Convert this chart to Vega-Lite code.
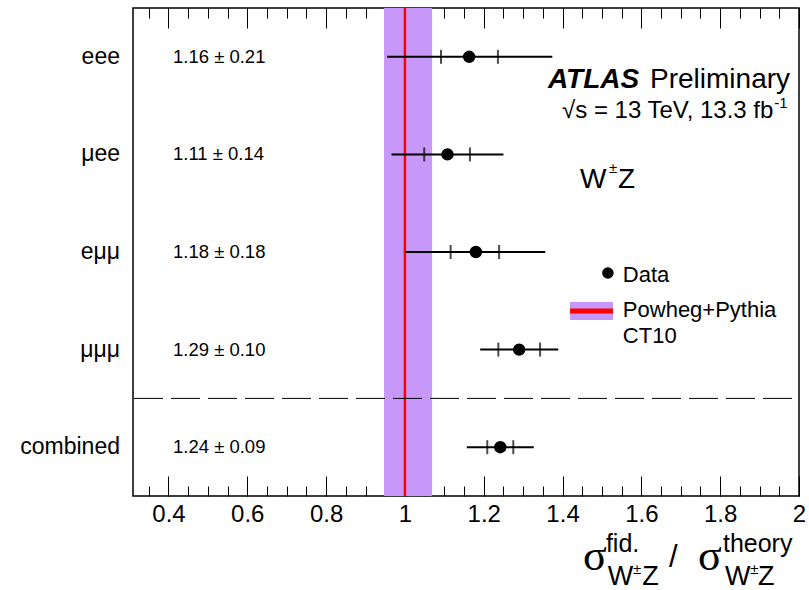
{
  "$schema": "https://vega.github.io/schema/vega-lite/v6.json",
  "width": 666,
  "height": 488,
  "autosize": {"type": "none"},
  "padding": {"left": 133, "top": 8, "right": 10, "bottom": 94},
  "background": "white",
  "config": {
    "view": {"stroke": "black", "strokeWidth": 1.5},
    "axis": {"labelFont": "Liberation Sans", "labelColor": "black", "tickColor": "black", "grid": false, "domain": false},
    "text": {"font": "Liberation Sans", "color": "black"}
  },
  "datasets": {
    "rows": [
      {"ch": "eee", "y": 4.5, "val": 1.163, "tlo": 0.955, "thi": 1.374, "slo": 1.0915, "shi": 1.236, "lab": "1.16 ± 0.21"},
      {"ch": "μee", "y": 3.5, "val": 1.108, "tlo": 0.966, "thi": 1.25, "slo": 1.049, "shi": 1.165, "lab": "1.11 ± 0.14"},
      {"ch": "eμμ", "y": 2.5, "val": 1.18, "tlo": 1.0, "thi": 1.356, "slo": 1.116, "shi": 1.239, "lab": "1.18 ± 0.18"},
      {"ch": "μμμ", "y": 1.5, "val": 1.29, "tlo": 1.191, "thi": 1.389, "slo": 1.237, "shi": 1.343, "lab": "1.29 ± 0.10"},
      {"ch": "combined", "y": 0.5, "val": 1.242, "tlo": 1.157, "thi": 1.327, "slo": 1.209, "shi": 1.275, "lab": "1.24 ± 0.09"}
    ]
  },
  "resolve": {"axis": {"x": "independent"}},
  "layer": [
    {
      "data": {"values": [{"lo": 0.947, "hi": 1.069}]},
      "mark": {"type": "rect", "color": "#c897fa"},
      "encoding": {
        "x": {"field": "lo", "type": "quantitative", "scale": {"domain": [0.31, 2.0], "nice": false, "zero": false},
              "axis": {"orient": "bottom", "values": [0.4, 0.6, 0.8, 1, 1.2, 1.4, 1.6, 1.8, 2], "format": "~g", "ticks": false, "labelFontSize": 24, "labelPadding": 6, "labelFlush": false, "labelOverlap": false, "title": null}},
        "x2": {"field": "hi"},
        "y": {"datum": 0, "type": "quantitative", "scale": {"domain": [0, 5], "nice": false, "zero": false}, "axis": null},
        "y2": {"datum": 5}
      }
    },
    {
      "data": {"values": [{}]},
      "mark": {"type": "rule", "color": "#ff0000", "strokeWidth": 2.5},
      "encoding": {"x": {"datum": 1, "type": "quantitative", "axis": null}}
    },
    {
      "data": {"values": [{}]},
      "mark": {"type": "rule", "color": "black", "strokeWidth": 1, "strokeDash": [29, 8], "strokeDashOffset": 30},
      "encoding": {"y": {"datum": 1, "type": "quantitative", "axis": null}}
    },
    {
      "data": {"name": "rows"},
      "mark": {"type": "rule", "color": "black", "strokeWidth": 2},
      "encoding": {
        "x": {"field": "tlo", "type": "quantitative",
              "axis": {"orient": "bottom", "values": [0.4, 0.6, 0.8, 1, 1.2, 1.4, 1.6, 1.8, 2], "labels": false, "tickSize": -20, "tickWidth": 1, "title": null}},
        "x2": {"field": "thi"},
        "y": {"field": "y", "type": "quantitative", "axis": null}
      }
    },
    {
      "data": {"name": "rows"},
      "mark": {"type": "tick", "orient": "vertical", "color": "black", "size": 14, "thickness": 2},
      "encoding": {
        "x": {"field": "slo", "type": "quantitative",
              "axis": {"orient": "bottom", "values": [0.35, 0.4, 0.45, 0.5, 0.55, 0.6, 0.65, 0.7, 0.75, 0.8, 0.85, 0.9, 0.95, 1, 1.05, 1.1, 1.15, 1.2, 1.25, 1.3, 1.35, 1.4, 1.45, 1.5, 1.55, 1.6, 1.65, 1.7, 1.75, 1.8, 1.85, 1.9, 1.95, 2], "labels": false, "tickSize": -10, "tickWidth": 1, "title": null}},
        "y": {"field": "y", "type": "quantitative", "axis": null}
      }
    },
    {
      "data": {"name": "rows"},
      "mark": {"type": "tick", "orient": "vertical", "color": "black", "size": 14, "thickness": 2},
      "encoding": {
        "x": {"field": "shi", "type": "quantitative",
              "axis": {"orient": "top", "values": [0.4, 0.6, 0.8, 1, 1.2, 1.4, 1.6, 1.8, 2], "labels": false, "tickSize": -20, "tickWidth": 1, "title": null}},
        "y": {"field": "y", "type": "quantitative", "axis": null}
      }
    },
    {
      "data": {"name": "rows"},
      "mark": {"type": "point", "filled": true, "color": "black", "opacity": 1, "size": 154},
      "encoding": {
        "x": {"field": "val", "type": "quantitative",
              "axis": {"orient": "top", "values": [0.35, 0.4, 0.45, 0.5, 0.55, 0.6, 0.65, 0.7, 0.75, 0.8, 0.85, 0.9, 0.95, 1, 1.05, 1.1, 1.15, 1.2, 1.25, 1.3, 1.35, 1.4, 1.45, 1.5, 1.55, 1.6, 1.65, 1.7, 1.75, 1.8, 1.85, 1.9, 1.95, 2], "labels": false, "tickSize": -10, "tickWidth": 1, "title": null}},
        "y": {"field": "y", "type": "quantitative", "axis": null}
      }
    },
    {
      "data": {"name": "rows"},
      "mark": {"type": "text", "fontSize": 18.5, "align": "left", "baseline": "middle"},
      "encoding": {
        "x": {"datum": 0.4115, "type": "quantitative", "axis": null},
        "y": {"field": "y", "type": "quantitative", "axis": null},
        "text": {"field": "lab"}
      }
    },
    {
      "data": {"name": "rows"},
      "mark": {"type": "text", "fontSize": 23, "align": "right", "baseline": "middle"},
      "encoding": {
        "x": {"datum": 0.277, "type": "quantitative", "axis": null},
        "y": {"field": "y", "type": "quantitative", "axis": null},
        "text": {"field": "ch"}
      }
    },
    {
      "data": {"values": [{"t": "ATLAS", "x": 1.363, "y": 4.18}]},
      "mark": {"type": "text", "fontSize": 28, "fontWeight": "bold", "fontStyle": "italic", "align": "left", "baseline": "alphabetic"},
      "encoding": {"x": {"field": "x", "type": "quantitative", "axis": null}, "y": {"field": "y", "type": "quantitative", "axis": null}, "text": {"field": "t"}}
    },
    {
      "data": {"values": [
        {"t": "Preliminary", "x": 1.622, "y": 4.18},
        {"t": "W", "x": 1.444, "y": 3.156},
        {"t": "Z", "x": 1.541, "y": 3.156}
      ]},
      "mark": {"type": "text", "fontSize": 28, "align": "left", "baseline": "alphabetic"},
      "encoding": {"x": {"field": "x", "type": "quantitative", "axis": null}, "y": {"field": "y", "type": "quantitative", "axis": null}, "text": {"field": "t"}}
    },
    {
      "data": {"values": [{"t": "√s = 13 TeV, 13.3 fb", "x": 1.935, "y": 3.873}]},
      "mark": {"type": "text", "fontSize": 24, "align": "right", "baseline": "alphabetic"},
      "encoding": {"x": {"field": "x", "type": "quantitative", "axis": null}, "y": {"field": "y", "type": "quantitative", "axis": null}, "text": {"field": "t"}}
    },
    {
      "data": {"values": [
        {"t": "-1", "x": 1.937, "y": 3.975},
        {"t": "±", "x": 1.518, "y": 3.309},
        {"t": "±", "x": 1.579, "y": -0.799},
        {"t": "±", "x": 1.876, "y": -0.799}
      ]},
      "mark": {"type": "text", "fontSize": 15, "align": "left", "baseline": "alphabetic"},
      "encoding": {"x": {"field": "x", "type": "quantitative", "axis": null}, "y": {"field": "y", "type": "quantitative", "axis": null}, "text": {"field": "t"}}
    },
    {
      "data": {"values": [{"x": 1.515, "y": 2.285}]},
      "mark": {"type": "point", "filled": true, "color": "black", "opacity": 1, "size": 133},
      "encoding": {"x": {"field": "x", "type": "quantitative", "axis": null}, "y": {"field": "y", "type": "quantitative", "axis": null}}
    },
    {
      "data": {"values": [{"x": 1.419, "x2": 1.528, "y": 1.988, "y2": 1.803}]},
      "mark": {"type": "rect", "color": "#c897fa"},
      "encoding": {"x": {"field": "x", "type": "quantitative", "axis": null}, "x2": {"field": "x2"}, "y": {"field": "y", "type": "quantitative", "axis": null}, "y2": {"field": "y2"}}
    },
    {
      "data": {"values": [{"x": 1.419, "x2": 1.528, "y": 1.895}]},
      "mark": {"type": "rule", "color": "#ff0000", "strokeWidth": 5},
      "encoding": {"x": {"field": "x", "type": "quantitative", "axis": null}, "x2": {"field": "x2"}, "y": {"field": "y", "type": "quantitative", "axis": null}}
    },
    {
      "data": {"values": [
        {"t": "Data", "x": 1.553, "y": 2.193},
        {"t": "Powheg+Pythia", "x": 1.553, "y": 1.834},
        {"t": "CT10", "x": 1.553, "y": 1.568}
      ]},
      "mark": {"type": "text", "fontSize": 22, "align": "left", "baseline": "alphabetic"},
      "encoding": {"x": {"field": "x", "type": "quantitative", "axis": null}, "y": {"field": "y", "type": "quantitative", "axis": null}, "text": {"field": "t"}}
    },
    {
      "data": {"values": [
        {"t": "σ", "x": 1.452, "y": -0.758},
        {"t": "σ", "x": 1.744, "y": -0.758}
      ]},
      "mark": {"type": "text", "font": "Liberation Serif", "fontSize": 44, "align": "left", "baseline": "alphabetic"},
      "encoding": {"x": {"field": "x", "type": "quantitative", "axis": null}, "y": {"field": "y", "type": "quantitative", "axis": null}, "text": {"field": "t"}}
    },
    {
      "data": {"values": [
        {"t": "fid.", "x": 1.51, "y": -0.574},
        {"t": "theory", "x": 1.807, "y": -0.574}
      ]},
      "mark": {"type": "text", "fontSize": 25, "align": "left", "baseline": "alphabetic"},
      "encoding": {"x": {"field": "x", "type": "quantitative", "axis": null}, "y": {"field": "y", "type": "quantitative", "axis": null}, "text": {"field": "t"}}
    },
    {
      "data": {"values": [
        {"t": "W", "x": 1.515, "y": -0.912},
        {"t": "Z", "x": 1.602, "y": -0.912},
        {"t": "W", "x": 1.812, "y": -0.912},
        {"t": "Z", "x": 1.896, "y": -0.912}
      ]},
      "mark": {"type": "text", "fontSize": 27, "align": "left", "baseline": "alphabetic"},
      "encoding": {"x": {"field": "x", "type": "quantitative", "axis": null}, "y": {"field": "y", "type": "quantitative", "axis": null}, "text": {"field": "t"}}
    },
    {
      "data": {"values": [{"t": "/", "x": 1.67, "y": -0.727}]},
      "mark": {"type": "text", "fontSize": 31, "align": "left", "baseline": "alphabetic"},
      "encoding": {"x": {"field": "x", "type": "quantitative", "axis": null}, "y": {"field": "y", "type": "quantitative", "axis": null}, "text": {"field": "t"}}
    }
  ]
}
